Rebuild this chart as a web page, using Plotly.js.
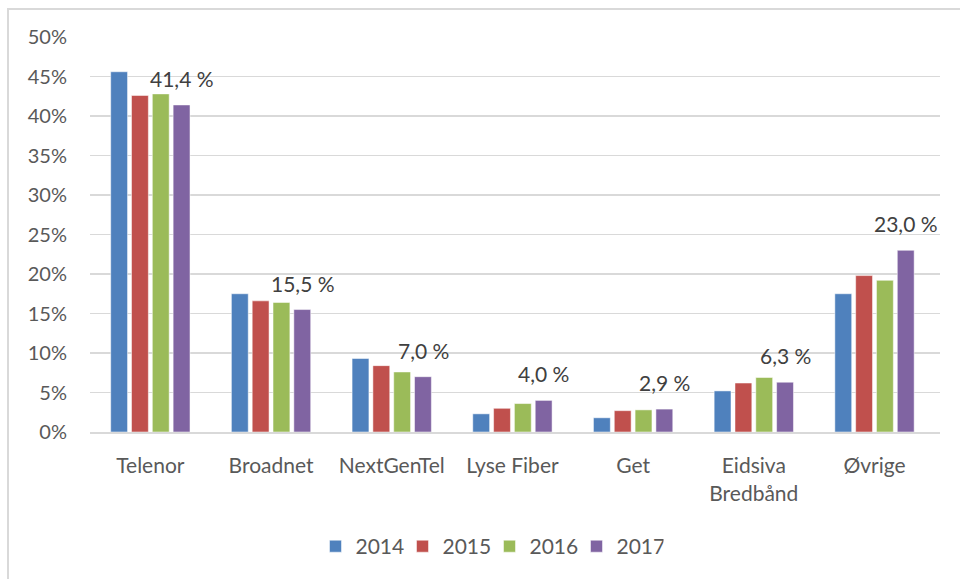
<!DOCTYPE html>
<html>
<head>
<meta charset="utf-8">
<script src="https://cdn.plot.ly/plotly-3.0.1.min.js"></script>
<style>
html,body{margin:0;padding:0;background:#fff;}
#wrap{position:relative;width:960px;height:579px;overflow:hidden;}
#chart{position:absolute;left:0;top:0;width:960px;height:579px;}
#frame{position:absolute;left:7px;top:8px;width:980px;height:600px;border-left:2px solid #d9d9d9;border-top:2px solid #d9d9d9;pointer-events:none;}
</style>
</head>
<body>
<div id="wrap"><div id="chart"></div><div id="frame"></div></div>
<script>
const categories = ["Telenor", "Broadnet", "NextGenTel", "Lyse Fiber", "Get", "Eidsiva<br>Bredbånd", "Øvrige"];
const years = ["2014", "2015", "2016", "2017"];
const v2014 = [45.6, 17.5, 9.3, 2.3, 1.8, 5.2, 17.5];
const v2015 = [42.6, 16.6, 8.4, 3.0, 2.7, 6.2, 19.8];
const v2016 = [42.8, 16.4, 7.6, 3.6, 2.8, 6.9, 19.2];
const v2017 = [41.4, 15.5, 7.0, 4.0, 2.9, 6.3, 23.0];
const colors = ["#4F81BD", "#C0504D", "#9BBB59", "#8064A2"];
const series = [v2014, v2015, v2016, v2017];

const font = "Lato, 'Open Sans', sans-serif";
const traces = series.map((vals, i) => ({
  type: "bar",
  name: years[i],
  x: categories,
  y: vals.map(v => v / 100),
  marker: {color: colors[i], line: {color: "rgba(255,255,255,0.5)", width: 1}},
  hoverinfo: "skip"
}));

const annotations = categories.map((c, j) => ({
  x: c, y: v2017[j] / 100, xref: "x", yref: "y",
  text: v2017[j].toFixed(1).replace(".", ",") + " %",
  showarrow: false, xanchor: "center", yanchor: "bottom",
  xshift: 31.5, yshift: 12,
  font: {family: font, size: 21, color: "#404040"}
}));

const layout = {
  width: 960, height: 579,
  margin: {l: 90, r: 20, t: 37, b: 147},
  paper_bgcolor: "#fff", plot_bgcolor: "#fff",
  barmode: "group", bargap: 0.31, bargroupgap: 0.19,
  showlegend: true,
  legend: {orientation: "h", x: 0.47, xanchor: "center", y: -0.29, yanchor: "middle",
           entrywidth: 42, entrywidthmode: "pixels",
           font: {family: font, size: 21, color: "#595959"}, traceorder: "normal"},
  xaxis: {type: "category", showgrid: false, showline: true, linecolor: "#d9d9d9", linewidth: 2,
          ticks: "", tickfont: {family: font, size: 21, color: "#595959"}, ticklabelstandoff: 14,
          tickangle: 0, fixedrange: true},
  yaxis: {range: [0, 0.5], dtick: 0.05, tickformat: ".0%", showgrid: true, gridcolor: "#d9d9d9",
          gridwidth: 1.5, zeroline: false, showline: false, ticks: "",
          tickfont: {family: font, size: 20, color: "#595959"}, ticklabelstandoff: 22, fixedrange: true},
  annotations: annotations
};

Plotly.newPlot("chart", traces, layout, {displayModeBar: false, staticPlot: true});
</script>
</body>
</html>
